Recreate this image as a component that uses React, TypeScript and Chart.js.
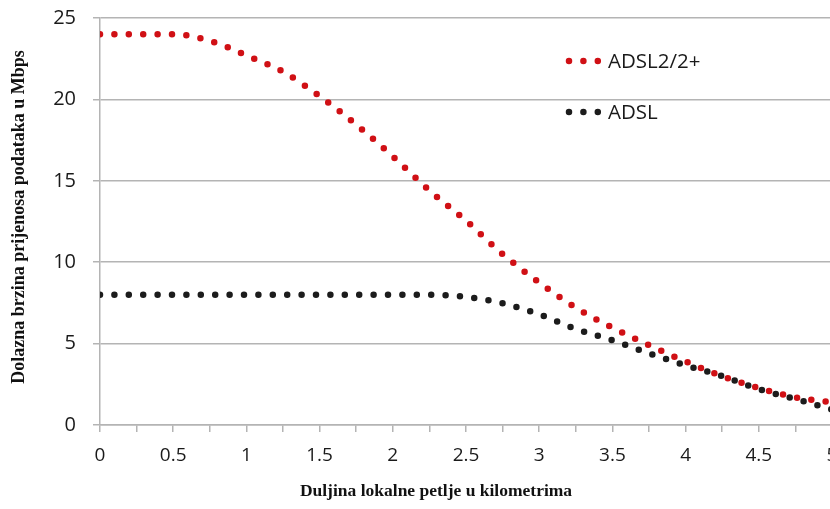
import React, { useEffect, useRef } from "react";
import { Chart, registerables } from "chart.js";

Chart.register(...registerables);

// Data
const distanceKm = [0, 0.25, 0.5, 0.75, 1, 1.25, 1.5, 1.75, 2, 2.25, 2.5, 2.75, 3, 3.25, 3.5, 3.75, 4, 4.25, 4.5, 4.75, 5];
const adsl2Mbps = [24.0, 24.0, 24.0, 23.6, 22.7, 21.7, 20.2, 18.45, 16.5, 14.4, 12.55, 10.5, 8.75, 7.2, 5.98, 4.9, 3.9, 3.0, 2.27, 1.7, 1.4];
const adslMbps = [8.0, 8.0, 8.0, 8.0, 8.0, 8.0, 8.0, 8.0, 8.0, 8.0, 7.87, 7.47, 6.8, 5.9, 5.2, 4.4, 3.67, 3.0, 2.2, 1.6, 0.95];
const seriesLabels = ["ADSL2/2+", "ADSL"];
const xLabeledTicks = [0, 0.5, 1, 1.5, 2, 2.5, 3, 3.5, 4, 4.5, 5];
const yTicks = [0, 5, 10, 15, 20, 25];
const xTitle = "Duljina lokalne petlje u kilometrima";
const yTitle = "Dolazna brzina prijenosa podataka u Mbps";

const RED = "#d01015";
const BLACK = "#1c1c1c";
const GRID = "#b4b4b4";
const DASH = [0, 14.4];
const DOT = 6.5;

const overlayPlugin = {
  id: "overlay",
  afterDraw(chart: any) {
    const ctx = chart.ctx;
    ctx.save();
    // legend inside plot
    const items = [
      { y: 61, ds: chart.data.datasets[0] },
      { y: 112, ds: chart.data.datasets[1] },
    ];
    items.forEach((it) => {
      ctx.save();
      ctx.strokeStyle = it.ds.borderColor;
      ctx.lineWidth = DOT;
      ctx.lineCap = "round";
      ctx.setLineDash(DASH);
      ctx.beginPath();
      ctx.moveTo(569, it.y);
      ctx.lineTo(599.5, it.y);
      ctx.stroke();
      ctx.restore();
      ctx.fillStyle = "#1a1a1a";
      ctx.font = "20.5px 'Open Sans'";
      ctx.textBaseline = "middle";
      ctx.textAlign = "left";
      ctx.fillText(it.ds.label, 608, it.y + 1);
    });
    // axis titles
    ctx.fillStyle = "#111";
    ctx.textAlign = "center";
    ctx.textBaseline = "middle";
    ctx.font = "bold 17.5px 'Liberation Serif'";
    ctx.fillText(xTitle, 436, 491);
    ctx.font = "bold 18px 'Liberation Serif'";
    ctx.translate(19, 217);
    ctx.rotate(-Math.PI / 2);
    ctx.fillText(yTitle, 0, 0);
    ctx.restore();
  },
};

export default function App() {
  const ref = useRef<HTMLCanvasElement | null>(null);

  useEffect(() => {
    if (!ref.current) return;
    const mk = (vals: number[]) => distanceKm.map((x, i) => ({ x, y: vals[i] }));
    const common = {
      pointRadius: 0,
      borderWidth: DOT,
      borderDash: DASH,
      borderCapStyle: "round" as const,
      cubicInterpolationMode: "monotone" as const,
      fill: false,
    };
    const chart = new Chart(ref.current, {
      type: "line",
      data: {
        datasets: [
          { ...common, label: seriesLabels[0], data: mk(adsl2Mbps), borderColor: RED, backgroundColor: RED },
          { ...common, label: seriesLabels[1], data: mk(adslMbps), borderColor: BLACK, backgroundColor: BLACK },
        ],
      },
      options: {
        animation: false,
        responsive: false,
        devicePixelRatio: 1,
        layout: { padding: { left: 0, top: 18, right: 18, bottom: 0 } },
        plugins: { legend: { display: false }, tooltip: { enabled: false } },
        scales: {
          x: {
            type: "linear",
            min: 0,
            max: 5,
            afterFit: (s: any) => { s.height = 84; s.paddingLeft = 0; s.paddingRight = 0; },
            afterBuildTicks: (s: any) => {
              const t: any[] = [];
              for (let i = 0; i <= 20; i++) t.push({ value: i * 0.25 });
              s.ticks = t;
            },
            ticks: {
              autoSkip: false,
              maxRotation: 0,
              padding: 12,
              color: "#1a1a1a",
              font: { family: "'Open Sans'", size: 19 },
              callback: (v: any) => (xLabeledTicks.includes(Number(v)) ? String(v) : ""),
            },
            grid: { drawOnChartArea: false, drawTicks: true, tickLength: 7, color: GRID, lineWidth: 1.5 },
            border: { display: true, color: GRID, width: 1.5 },
          },
          y: {
            min: 0,
            max: 25,
            afterFit: (s: any) => { s.width = 100; s.paddingTop = 0; s.paddingBottom = 0; },
            afterBuildTicks: (s: any) => { s.ticks = yTicks.map((value) => ({ value })); },
            ticks: {
              padding: 17,
              color: "#1a1a1a",
              font: { family: "'Open Sans'", size: 20 },
            },
            grid: { color: GRID, lineWidth: 1.5, tickLength: 7 },
            border: { display: true, color: GRID, width: 1.5 },
          },
        },
      },
      plugins: [overlayPlugin],
    });
    return () => chart.destroy();
  }, []);

  return (
    <div style={{ position: "absolute", left: 0, top: 0, width: 830, height: 509, overflow: "hidden", background: "#fff" }}>
      <canvas ref={ref} width={850} height={509} style={{ display: "block", width: 850, height: 509 }} />
    </div>
  );
}
